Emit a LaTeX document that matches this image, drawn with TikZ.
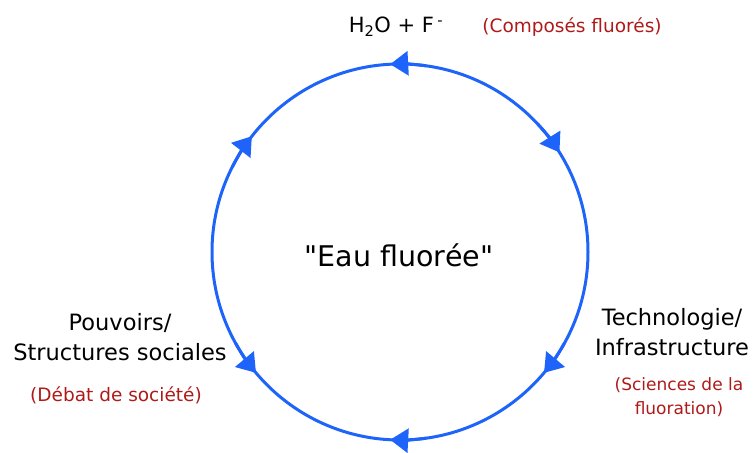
\documentclass[tikz,border=0pt]{standalone}
\usepackage{fontspec}
\setmainfont{DejaVu Sans}
\usetikzlibrary{arrows.meta}
\definecolor{cycblue}{RGB}{30,100,250}
\definecolor{notered}{RGB}{175,25,25}
\begin{document}
\begin{tikzpicture}[x=1pt, y=1pt,
		cyc/.style={draw=cycblue, line width=3pt},
		flow/.style={cyc, -{Triangle[length=18pt, width=24pt]}},
		lbl/.style={font=\fontsize{22.5}{30}\selectfont, align=center},
		note/.style={text=notered, font=\fontsize{18.5}{26}\selectfont, align=center}]
			\useasboundingbox (0,0) rectangle (756,453);
			\coordinate (ctr) at (400,201);
			\draw[cyc] (ctr) circle[radius=188pt];
			\foreach \a/\d in {90/1, 35/-1, -37/-1, -90/-1, 217/1, 145/-1} { \draw[flow] (ctr) ++(\a-8*\d:188pt) arc[start angle=\a-8*\d, end angle=\a+3*\d, radius=188pt]; }
			\node[lbl, anchor=base, font=\fontsize{21}{26}\selectfont] (h2o) at (396,420) {H\textsubscript{2}O + F\,\textsuperscript{-}};
			\node[note, anchor=base] (compo) at (572,420) {(Composés fluorés)};
			\node[lbl, anchor=base, font=\fontsize{28.5}{34}\selectfont] (eau) at (399,186) {\textquotedbl Eau fluorée\textquotedbl};
			\node[lbl] (pouvoir) at (120,116) {Pouvoirs/\\Structures sociales};
			\node[note, anchor=base] (debat) at (116,51) {(Débat de société)};
			\node[lbl] (techno) at (672,121) {Technologie/\\Infrastructure};
			\node[note, font=\fontsize{17}{24}\selectfont] (sciences) at (679,56) {(Sciences de la\\fluoration)};
		\end{tikzpicture}
\end{document}
